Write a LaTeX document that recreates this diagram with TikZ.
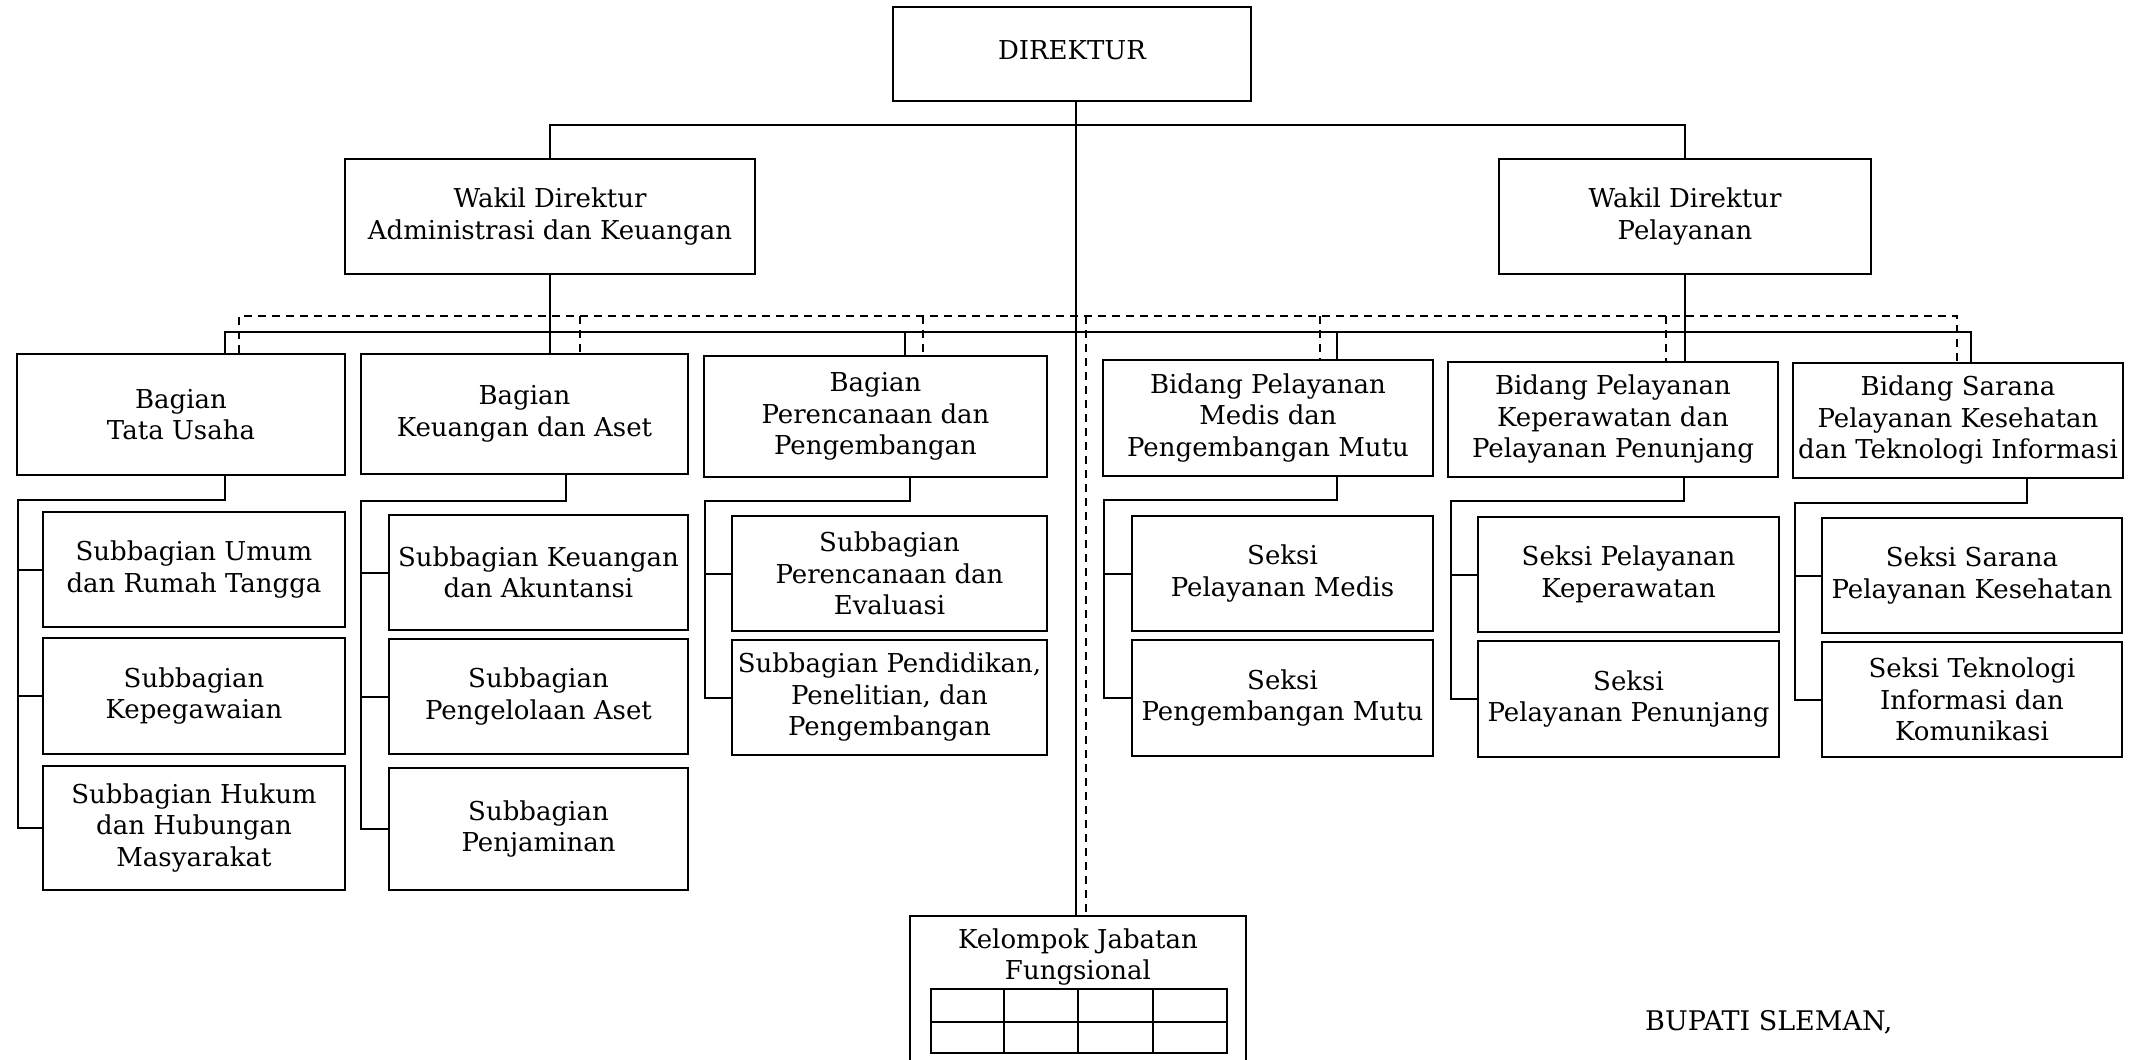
\documentclass[tikz,border=0pt]{standalone}
\usepackage{fontspec}
\setmainfont{DejaVu Serif}
\begin{document}
\begin{tikzpicture}[x=1pt,y=-1pt,
  txt/.style={font=\fontsize{26}{31.5}\selectfont},
  box/.style={draw,line width=2.6pt,inner sep=0pt,align=center,txt},
  conn/.style={line width=2pt},
  dconn/.style={line width=2pt,dash pattern=on 8pt off 6pt}]
\useasboundingbox (0,0) rectangle (2129,1060);
\clip (0,0) rectangle (2129,1060);
\newcommand{\bx}[6]{\node[box,minimum width={#4-#2},minimum height={#5-#3}] (#1) at ({(#2+#4)/2},{(#3+#5)/2}) {#6};}
% boxes
\bx{dir}{893}{7}{1251}{101}{\raisebox{4pt}[\height][\depth]{DIREKTUR}}
\bx{wa}{345}{159}{755}{274}{Wakil Direktur\\Administrasi dan Keuangan}
\bx{wp}{1499}{159}{1871}{274}{Wakil Direktur\\Pelayanan}
\bx{b1}{17}{354}{345}{475}{Bagian\\Tata Usaha}
\bx{b2}{361}{354}{688}{474}{Bagian\\Keuangan dan Aset}
\bx{b3}{704}{356}{1047}{477}{Bagian\\Perencanaan dan\\Pengembangan}
\bx{b4}{1103}{360}{1433}{476}{Bidang Pelayanan\\Medis dan\\Pengembangan Mutu}
\bx{b5}{1448}{362}{1778}{477}{Bidang Pelayanan\\Keperawatan dan\\Pelayanan Penunjang}
\bx{b6}{1793}{363}{2123}{478}{Bidang Sarana\\Pelayanan Kesehatan\\dan Teknologi Informasi}
\bx{s11}{43}{512}{345}{627}{Subbagian Umum\\dan Rumah Tangga}
\bx{s12}{43}{638}{345}{754}{Subbagian\\Kepegawaian}
\bx{s13}{43}{766}{345}{890}{Subbagian Hukum\\dan Hubungan\\Masyarakat}
\bx{s21}{389}{515}{688}{630}{Subbagian Keuangan\\dan Akuntansi}
\bx{s22}{389}{639}{688}{754}{Subbagian\\Pengelolaan Aset}
\bx{s23}{389}{768}{688}{890}{Subbagian\\Penjaminan}
\bx{s31}{732}{516}{1047}{631}{Subbagian\\Perencanaan dan\\Evaluasi}
\bx{s32}{732}{640}{1047}{755}{Subbagian Pendidikan,\\Penelitian, dan\\Pengembangan}
\bx{s41}{1132}{516}{1433}{631}{Seksi\\Pelayanan Medis}
\bx{s42}{1132}{640}{1433}{756}{Seksi\\Pengembangan Mutu}
\bx{s51}{1478}{517}{1779}{632}{Seksi Pelayanan\\Keperawatan}
\bx{s52}{1478}{641}{1779}{757}{Seksi\\Pelayanan Penunjang}
\bx{s61}{1822}{518}{2122}{633}{Seksi Sarana\\Pelayanan Kesehatan}
\bx{s62}{1822}{642}{2122}{757}{Seksi Teknologi\\Informasi dan\\Komunikasi}
\bx{kjf}{910}{916}{1246}{1090}{}
\node[txt,align=center,inner sep=0pt] (kjft) at (1078,957) {Kelompok Jabatan\\Fungsional};
% table inside Kelompok Jabatan Fungsional
\draw[line width=2pt] (931,989) rectangle (1227,1053);
\draw[line width=2pt] (931,1022) -- (1227,1022)
  (1004,989) -- (1004,1053) (1078,989) -- (1078,1053) (1153,989) -- (1153,1053);
% top level
\coordinate (cx) at (1076,0);
\coordinate (cdx) at (1086,316);
\coordinate (tb) at (0,125);
\draw[conn] (dir.south -| cx) -- (kjf.north -| cx);
\draw[conn] (wa.north) -- (wa.north |- tb) -- (wp.north |- tb) -- (wp.north);
\draw[conn] (wa.south) -- (b2.north -| wa.south);
\draw[conn] (wp.south) -- (b5.north -| wp.south);
% solid bar
\coordinate (sl) at (224.5,332);
\coordinate (sr) at (1971,332);
\coordinate (s3) at (905,332);
\coordinate (s4) at (1337,332);
\draw[conn] (b1.north -| sl) -- (sl) -- (sr) -- (b6.north -| sr);
\draw[conn] (s3) -- (b3.north -| s3);
\draw[conn] (s4) -- (b4.north -| s4);
% dashed bar
\coordinate (dl) at (238.5,316);
\coordinate (dr) at (1957,316);
\coordinate (e2) at (579.5,316);
\coordinate (e3) at (923,316);
\coordinate (e4) at (1320,316);
\coordinate (e5) at (1666,316);
\draw[dconn] (b1.north -| dl) -- (dl) -- (dr) -- (b6.north -| dr);
\draw[dconn] (e2) -- (b2.north -| e2);
\draw[dconn] (e3) -- (b3.north -| e3);
\draw[dconn] (e4) -- (b4.north -| e4);
\draw[dconn] (e5) -- (b5.north -| e5);
\draw[dconn] (cdx) -- (kjf.north -| cdx);
% column 1
\coordinate (d1) at (225,500); \coordinate (l1) at (17.5,500);
\draw[conn] (b1.south -| d1) -- (d1) -- (l1) |- (s13.west);
\draw[conn] (l1 |- s11.west) -- (s11.west);
\draw[conn] (l1 |- s12.west) -- (s12.west);
% column 2
\coordinate (d2) at (566,501); \coordinate (l2) at (361,501);
\draw[conn] (b2.south -| d2) -- (d2) -- (l2) |- (s23.west);
\draw[conn] (l2 |- s21.west) -- (s21.west);
\draw[conn] (l2 |- s22.west) -- (s22.west);
% column 3
\coordinate (d3) at (910,501); \coordinate (l3) at (705,501);
\draw[conn] (b3.south -| d3) -- (d3) -- (l3) |- (s32.west);
\draw[conn] (l3 |- s31.west) -- (s31.west);
% column 4
\coordinate (d4) at (1337,500); \coordinate (l4) at (1104,500);
\draw[conn] (b4.south -| d4) -- (d4) -- (l4) |- (s42.west);
\draw[conn] (l4 |- s41.west) -- (s41.west);
% column 5
\coordinate (d5) at (1684,501); \coordinate (l5) at (1450.5,501);
\draw[conn] (b5.south -| d5) -- (d5) -- (l5) |- (s52.west);
\draw[conn] (l5 |- s51.west) -- (s51.west);
% column 6
\coordinate (d6) at (2027,503); \coordinate (l6) at (1795,503);
\draw[conn] (b6.south -| d6) -- (d6) -- (l6) |- (s62.west);
\draw[conn] (l6 |- s61.west) -- (s61.west);
% signature
\node[font=\fontsize{27}{32}\selectfont,anchor=base west,inner sep=0pt] (bup) at (1645,1030) {BUPATI SLEMAN,};
\end{tikzpicture}
\end{document}
